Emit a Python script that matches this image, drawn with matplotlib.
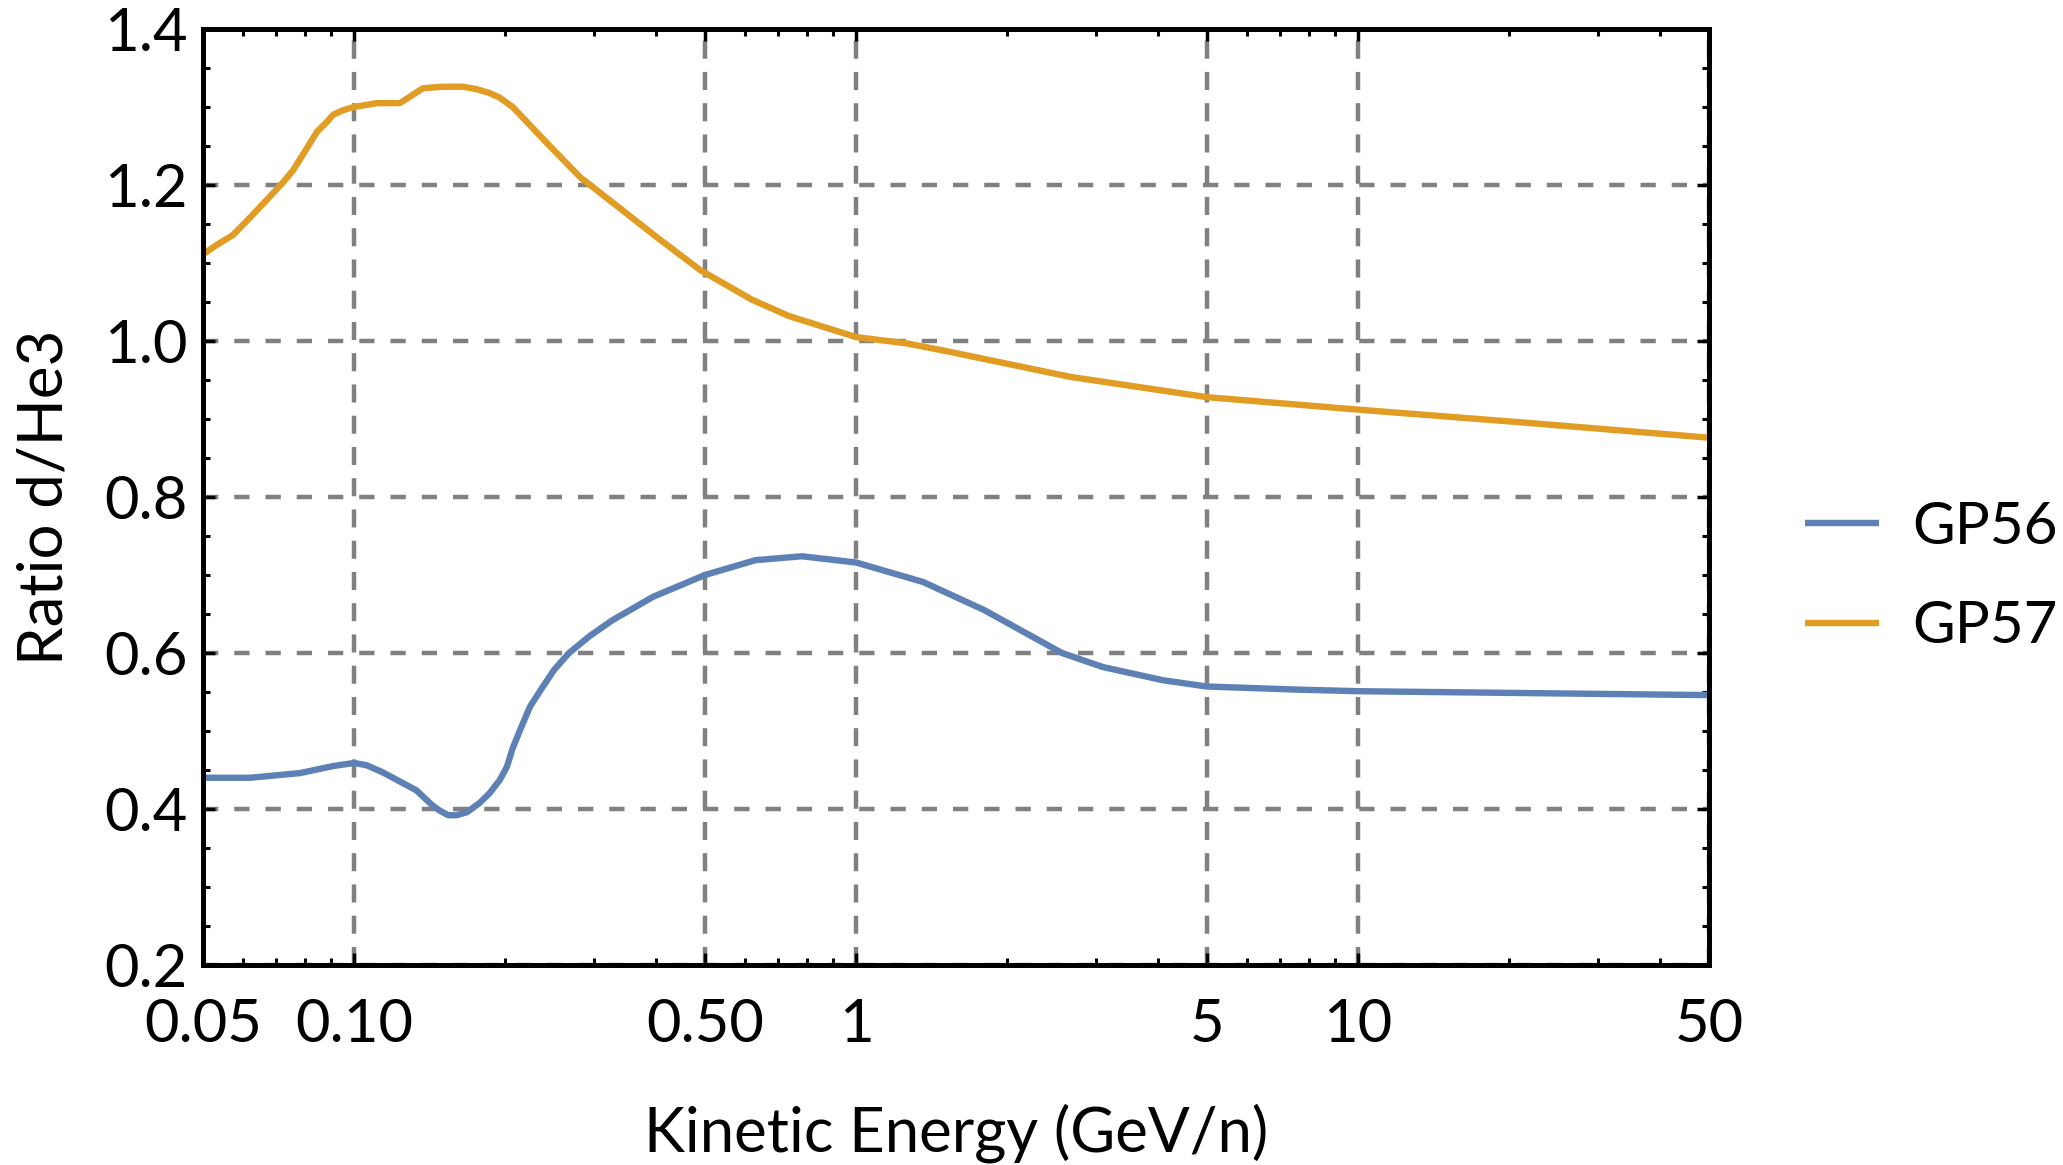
import matplotlib
matplotlib.use("Agg")
import matplotlib.pyplot as plt
from matplotlib.ticker import (FixedLocator, FixedFormatter, LogLocator,
                               MultipleLocator, FormatStrFormatter, NullFormatter)

plt.rcParams["font.family"] = ["Lato", "DejaVu Sans"]
plt.rcParams["lines.scale_dashes"] = False

BLUE = "#5E81B5"
ORANGE = "#E19C24"
GRID = "#808080"

# GP56: d/He3 ratio vs kinetic energy (GeV/n)
e56 = [0.05, 0.062, 0.078, 0.0908, 0.1, 0.106, 0.114, 0.133, 0.143, 0.148,
       0.154, 0.16, 0.168, 0.178, 0.186, 0.195, 0.2015, 0.207, 0.214, 0.224,
       0.2345, 0.25, 0.268, 0.295, 0.327, 0.394, 0.5, 0.63, 0.78, 1.0, 1.36,
       1.80, 2.57, 3.1, 4.09, 5.0, 7.6, 10.0, 50.0]
r56 = [0.440, 0.440, 0.446, 0.455, 0.459, 0.456, 0.447, 0.424, 0.405, 0.398,
       0.392, 0.392, 0.396, 0.408, 0.420, 0.437, 0.454, 0.478, 0.501, 0.531,
       0.551, 0.578, 0.600, 0.622, 0.642, 0.672, 0.700, 0.719, 0.724, 0.716, 0.691,
       0.655, 0.600, 0.582, 0.565, 0.557, 0.553, 0.551, 0.546]

# GP57
e57 = [0.05, 0.0532, 0.0574, 0.062, 0.067, 0.0721, 0.0756, 0.0805, 0.0843,
       0.0883, 0.0908, 0.0951, 0.1, 0.111, 0.1234, 0.129, 0.137, 0.143, 0.150,
       0.165, 0.175, 0.186, 0.195, 0.207, 0.242, 0.282, 0.328, 0.401, 0.489,
       0.62, 0.735, 1.0, 1.26, 1.54, 2.67, 5.0, 10.0, 21.8, 50.0]
r57 = [1.111, 1.123, 1.136, 1.158, 1.181, 1.203, 1.219, 1.247, 1.268,
       1.281, 1.290, 1.296, 1.300, 1.305, 1.305, 1.313, 1.324, 1.325, 1.326,
       1.326, 1.323, 1.318, 1.312, 1.300, 1.254, 1.210, 1.177, 1.133, 1.091,
       1.053, 1.032, 1.005, 0.997, 0.986, 0.954, 0.928, 0.912, 0.895, 0.876]

XTICKS = [0.05, 0.1, 0.5, 1, 5, 10, 50]
XLABELS = ["0.05", "0.10", "0.50", "1", "5", "10", "50"]
YTICKS = [0.2, 0.4, 0.6, 0.8, 1.0, 1.2, 1.4]

fig = plt.figure(figsize=(20.63, 11.65), dpi=100)
ax = fig.add_axes([0.0984, 0.1717, 0.7300, 0.8034])
ax.set_xscale("log")
ax.set_xlim(0.05, 50)
ax.set_ylim(0.2, 1.4)

ax.plot(e56, r56, color=BLUE, lw=4.6, label="GP56",
        solid_joinstyle="round", solid_capstyle="butt")
ax.plot(e57, r57, color=ORANGE, lw=4.6, label="GP57",
        solid_joinstyle="round", solid_capstyle="butt")

ax.xaxis.set_major_locator(FixedLocator(XTICKS))
ax.xaxis.set_major_formatter(FixedFormatter(XLABELS))
ax.xaxis.set_minor_locator(LogLocator(base=10, subs=range(2, 10), numticks=20))
ax.xaxis.set_minor_formatter(NullFormatter())
ax.yaxis.set_major_locator(FixedLocator(YTICKS))
ax.yaxis.set_major_formatter(FormatStrFormatter("%.1f"))
ax.yaxis.set_minor_locator(MultipleLocator(0.05))

ax.xaxis.grid(True, which="major", color=GRID, lw=3.2, linestyle=(0, (13, 9.5)))
ax.yaxis.grid(True, which="major", color=GRID, lw=3.2, linestyle=(0, (11, 11.5)))

ax.tick_params(which="both", direction="in", top=True, right=True, colors="black")
ax.tick_params(which="major", length=8.5, width=2.5, labelsize=43)
ax.tick_params(axis="x", which="major", pad=24)
ax.tick_params(axis="y", which="major", pad=11)
ax.tick_params(which="minor", length=5, width=2.2)
for s in ax.spines.values():
    s.set_linewidth(3.6)

ax.set_xlabel("Kinetic Energy (GeV/n)", fontsize=44.5, labelpad=37)
ax.set_ylabel("Ratio d/He3", fontsize=44.5, labelpad=22)

ax.legend(loc="center left", bbox_to_anchor=(0.875, 0.5047),
          bbox_transform=fig.transFigure, frameon=False, fontsize=42,
          handlelength=1.26, handletextpad=0.58, labelspacing=0.8,
          borderpad=0, borderaxespad=0)

fig.savefig("out.png", dpi=100)
